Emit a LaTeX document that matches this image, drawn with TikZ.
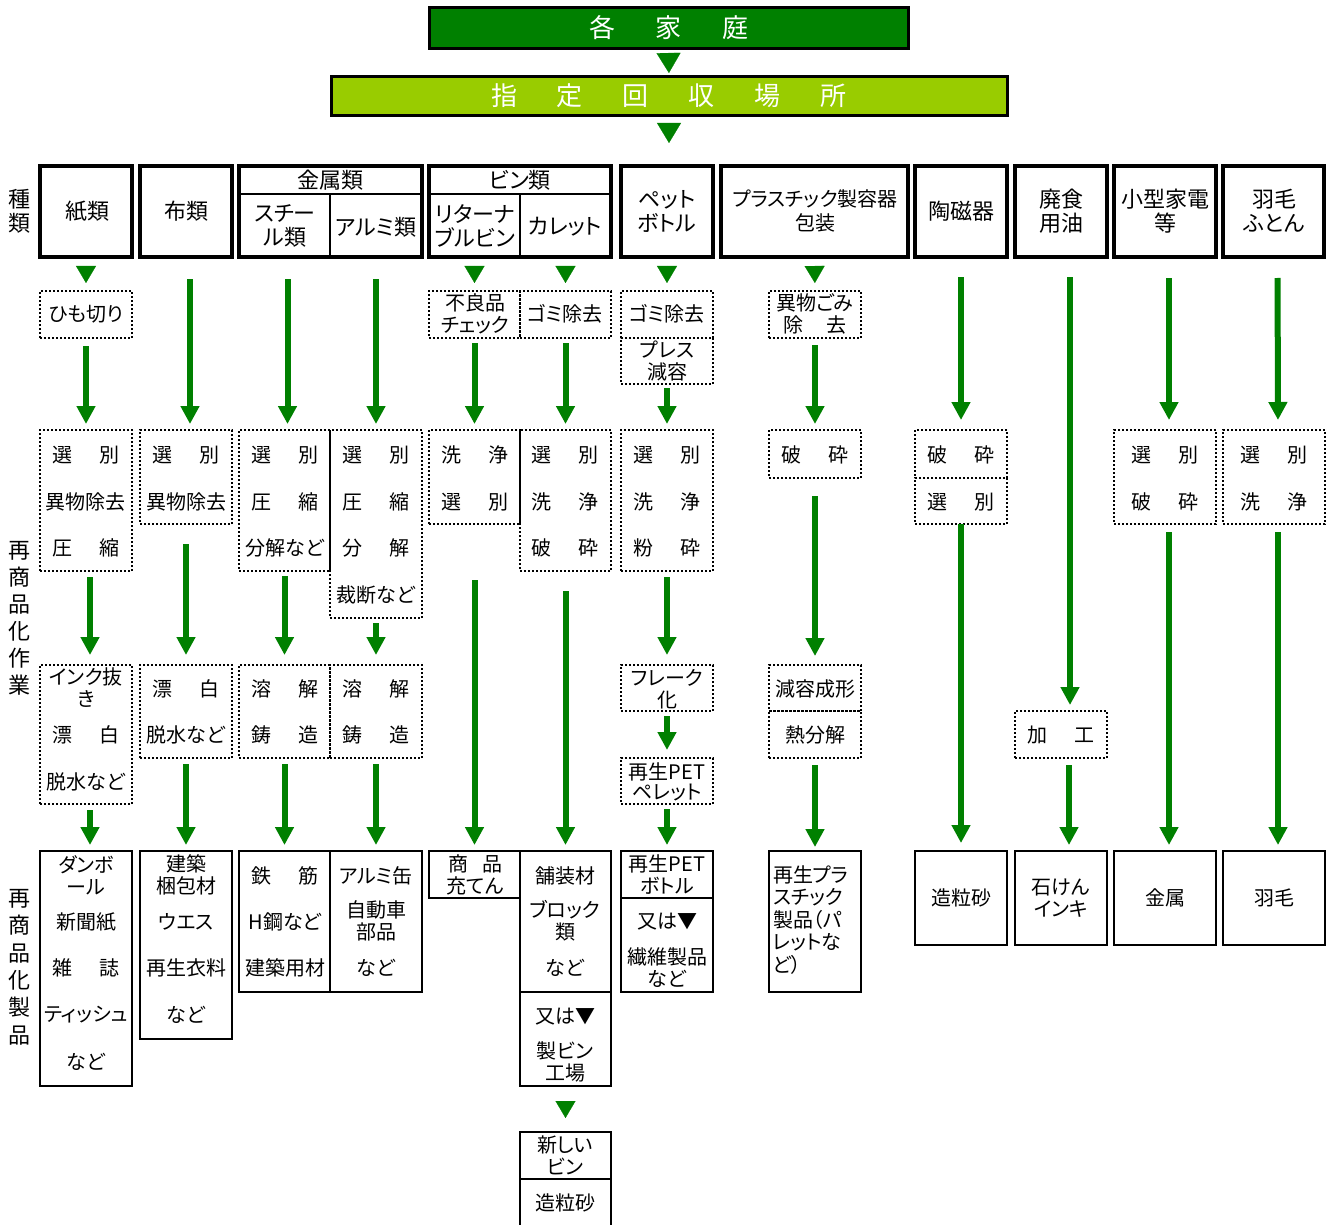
\documentclass[tikz,border=0pt]{standalone}
\usepackage{fontspec}
\setmainfont{Noto Sans CJK JP}[RawFeature=+palt]
\usetikzlibrary{fit,arrows.meta}
\definecolor{dkgreen}{HTML}{008000}
\definecolor{ltgreen}{HTML}{99CC00}
\newcounter{tn}
\newcommand\gap{\hspace{13.5pt}}
\newcommand\tx[4][]{\stepcounter{tn}\node[txt,#1] (t\arabic{tn}) at (#2,#3) {#4};}
\newcommand\bx[4]{\node[#1, fit={(#3) (#4)}] (#2) {};}
\newcommand\arr[5][0pt]{\draw[arr, shorten <=#4, shorten >=#5] ([xshift=#1]#2.south) -- ([xshift=#1]#3.north);}
\newcommand\tri[4]{\draw[tri, shorten <=#3, shorten >=#4] (#1.south) -- (#2.north);}
\begin{document}
\begin{tikzpicture}[x=0.5pt, y=-0.5pt,
  txt/.style={inner sep=0pt, outer sep=0pt, align=center, font=\fontsize{10pt}{11pt}\selectfont},
  cattxt/.style={font=\fontsize{11pt}{12pt}\selectfont},
  sidetxt/.style={font=\fontsize{11pt}{12pt}\selectfont},
  ttl/.style={inner sep=0pt, outer sep=0pt, text=white, font=\fontsize{13pt}{15pt}\selectfont},
  catbox/.style={draw, line width=2pt, inner sep=0pt, outer sep=0pt},
  cell/.style={draw, line width=1pt, inner sep=0pt, outer sep=0pt},
  dotbox/.style={draw, line width=1pt, dash pattern=on 1pt off 1pt, inner sep=0pt, outer sep=0pt},
  prodbox/.style={draw, line width=1pt, inner sep=0pt, outer sep=0pt},
  arr/.style={draw=dkgreen, line width=3pt, -{Triangle[width=9pt,length=9pt]}},
  tri/.style={draw=dkgreen, line width=0.1pt, -{Triangle[width=10pt,length=8.5pt]}},
  tribig/.style={draw=dkgreen, line width=0.1pt, -{Triangle[width=12pt,length=10pt]}}
]
\useasboundingbox (0,0) rectangle (1327,1225);

% ---- title boxes
\node[fit={(429,8) (908,49)}, fill=dkgreen, draw=black, line width=1.5pt, inner sep=0pt, outer sep=0pt] (hh) {};
\node[ttl] (hht) at (669,28) {各\hspace{20.5pt}家\hspace{20.5pt}庭};
\node[fit={(331,77) (1007,116)}, fill=ltgreen, draw=black, line width=1.5pt, inner sep=0pt, outer sep=0pt] (sk) {};
\node[ttl] (skt) at (669,96) {指\hspace{20pt}定\hspace{20pt}回\hspace{20pt}収\hspace{20pt}場\hspace{20pt}所};
\coordinate (catTop) at (669,143);
\draw[tribig, shorten <=2pt, shorten >=2pt] (hh.south) -- (sk.north);
\draw[tribig, shorten <=3.5pt] (sk.south) -- (catTop);

% ---- side labels
\tx[sidetxt]{20}{211}{種\\類}
\tx[sidetxt, font=\fontsize{11pt}{13.5pt}\selectfont]{20}{618}{再\\商\\品\\化\\作\\業}
\tx[sidetxt, font=\fontsize{11pt}{13.7pt}\selectfont]{20}{967}{再\\商\\品\\化\\製\\品}

% ---- category row
\bx{catbox}{c1}{40,166}{132,257}
\bx{catbox}{c2}{140,166}{232,257}
\bx{cell}{c3h}{239,166}{422,194}
\bx{cell}{c3a}{239,194}{330,257}
\bx{cell}{c3b}{330,194}{422,257}
\bx{catbox}{c3}{239,166}{422,257}
\bx{cell}{c4h}{429,166}{611,194}
\bx{cell}{c4a}{429,194}{520,257}
\bx{cell}{c4b}{520,194}{611,257}
\bx{catbox}{c4}{429,166}{611,257}
\bx{catbox}{c5}{621,166}{713,257}
\bx{catbox}{c6}{721,166}{908,257}
\bx{catbox}{c7}{915,166}{1007,257}
\bx{catbox}{c8}{1015,166}{1107,257}
\bx{catbox}{c9}{1114,166}{1216,257}
\bx{catbox}{c10}{1223,166}{1324,257}

\tx[cattxt]{87}{211}{紙類}
\tx[cattxt]{186}{211}{布類}
\tx[cattxt]{330}{180}{金属類}
\tx[cattxt]{285}{226}{スチー\\ル類}
\tx[cattxt]{376}{227}{アルミ類}
\tx[cattxt]{520}{180}{ビン類}
\tx[cattxt]{475}{226}{リターナ\\ブルビン}
\tx[cattxt]{565}{227}{カレット}
\tx[cattxt]{667}{211}{ペット\\ボトル}
\tx[font=\fontsize{10pt}{12pt}\selectfont]{815}{211}{プラスチック製容器\\包装}
\tx[cattxt]{961}{211}{陶磁器}
\tx[cattxt]{1061}{211}{廃食\\用油}
\tx[cattxt]{1165}{211}{小型家電\\等}
\tx[cattxt]{1274}{211}{羽毛\\ふとん}

% ---- process and product boxes
\bx{dotbox}{p1a}{40,291}{132,338}
\bx{dotbox}{p1b}{40,430}{132,571}
\bx{dotbox}{p1c}{40,665}{132,804}
\bx{prodbox}{r1}{40,851}{132,1086}
\bx{dotbox}{p2b}{140,430}{232,524}
\bx{dotbox}{p2c}{140,665}{232,758}
\bx{prodbox}{r2}{140,851}{232,1039}
\bx{dotbox}{p3b}{239,430}{330,571}
\bx{dotbox}{p3c}{239,665}{330,758}
\bx{prodbox}{r3a}{239,851}{330,992}
\bx{dotbox}{p4b}{330,430}{422,618}
\bx{dotbox}{p4c}{330,665}{422,758}
\bx{prodbox}{r4}{330,851}{422,992}
\bx{dotbox}{p5a}{429,291}{520,338}
\bx{dotbox}{p5b}{429,430}{520,524}
\bx{prodbox}{r5}{429,851}{520,898}
\bx{dotbox}{p6a}{520,291}{611,338}
\bx{dotbox}{p6b}{520,430}{611,571}
\bx{prodbox}{r6a}{520,851}{611,992}
\bx{prodbox}{r6b}{520,992}{611,1086}
\bx{prodbox}{r6c}{520,1132}{611,1179}
\node[fit={(520,1179) (611,1225)}, inner sep=0pt, outer sep=0pt] (r6d) {};
\draw[line width=1pt] (r6d.south west) -- (r6d.north west) -- (r6d.north east) -- (r6d.south east);
\bx{dotbox}{p7a}{621,291}{713,338}
\bx{dotbox}{p7a2}{621,338}{713,384}
\bx{dotbox}{p7b}{621,430}{713,571}
\bx{dotbox}{p7c}{621,665}{713,711}
\bx{dotbox}{p7d}{621,758}{713,804}
\bx{prodbox}{r7a}{621,851}{713,898}
\bx{prodbox}{r7b}{621,898}{713,992}
\bx{dotbox}{p8a}{769,291}{861,338}
\bx{dotbox}{p8b}{769,430}{861,478}
\bx{dotbox}{p8c}{769,665}{861,711}
\bx{dotbox}{p8d}{769,711}{861,758}
\bx{prodbox}{r8}{769,851}{861,992}
\bx{dotbox}{p9a}{915,430}{1007,478}
\bx{dotbox}{p9b}{915,478}{1007,524}
\bx{prodbox}{r9}{915,851}{1007,945}
\bx{dotbox}{p10}{1015,711}{1107,758}
\bx{prodbox}{r10}{1015,851}{1107,945}
\bx{dotbox}{p11}{1114,430}{1216,524}
\bx{prodbox}{r11}{1114,851}{1216,945}
\bx{dotbox}{p12}{1223,430}{1325,524}
\bx{prodbox}{r12}{1223,851}{1325,945}

% ---- texts column 1
\tx{86}{314}{ひも切り}
\tx{86}{455}{選\gap 別}
\tx{86}{502}{異物除去}
\tx{86}{548}{圧\gap 縮}
\tx{86}{688}{インク抜\\き}
\tx{86}{735}{漂\gap 白}
\tx{86}{782}{脱水など}
\tx{86}{875}{ダンボ\\ール}
\tx{86}{922}{新聞紙}
\tx{86}{968}{雑\gap 誌}
\tx{86}{1015}{ティッシュ}
\tx{86}{1062}{など}
% column 2
\tx{186}{455}{選\gap 別}
\tx{186}{502}{異物除去}
\tx{186}{689}{漂\gap 白}
\tx{186}{735}{脱水など}
\tx{186}{875}{建築\\梱包材}
\tx{186}{922}{ウエス}
\tx{186}{968}{再生衣料}
\tx{186}{1015}{など}
% column 3
\tx{285}{455}{選\gap 別}
\tx{285}{502}{圧\gap 縮}
\tx{285}{548}{分解など}
\tx{285}{689}{溶\gap 解}
\tx{285}{735}{鋳\gap 造}
\tx{285}{876}{鉄\gap 筋}
\tx{285}{922}{H鋼など}
\tx{285}{968}{建築用材}
% column 4
\tx{376}{455}{選\gap 別}
\tx{376}{502}{圧\gap 縮}
\tx{376}{548}{分\gap 解}
\tx{376}{595}{裁断など}
\tx{376}{689}{溶\gap 解}
\tx{376}{735}{鋳\gap 造}
\tx{376}{876}{アルミ缶}
\tx{376}{921}{自動車\\部品}
\tx{376}{968}{など}
% column 5
\tx{475}{314}{不良品\\チェック}
\tx{475}{455}{洗\gap 浄}
\tx{475}{502}{選\gap 別}
\tx{475}{875}{商\hspace{7pt}品\\充てん}
% column 6
\tx{565}{314}{ゴミ除去}
\tx{565}{455}{選\gap 別}
\tx{565}{502}{洗\gap 浄}
\tx{565}{548}{破\gap 砕}
\tx{565}{876}{舗装材}
\tx{565}{921}{ブロック\\類}
\tx{565}{968}{など}
\tx{565}{1017}{又は▼}
\tx{565}{1062}{製ビン\\工場}
\tx{565}{1155}{新しい\\ビン}
\tx{565}{1203}{造粒砂}
% column 7
\tx{667}{314}{ゴミ除去}
\tx{667}{361}{プレス\\減容}
\tx{667}{455}{選\gap 別}
\tx{667}{502}{洗\gap 浄}
\tx{667}{548}{粉\gap 砕}
\tx{667}{689}{フレーク\\化}
\tx[font=\fontsize{10pt}{10pt}\selectfont]{667}{782}{再生PET\\ペレット}
\tx{667}{875}{再生PET\\ボトル}
\tx{667}{922}{又は▼}
\tx{667}{968}{繊維製品\\など}
% column 8
\tx{815}{314}{異物ごみ\\除\hspace{12pt}去}
\tx{815}{455}{破\gap 砕}
\tx{815}{689}{減容成形}
\tx{815}{735}{熱分解}
\tx[align=left, anchor=west, font=\fontsize{10pt}{11.25pt}\selectfont]{773}{920}{再生プラ\\スチック\\製品（パ\\レットな\\ど）}
% column 9
\tx{961}{455}{破\gap 砕}
\tx{961}{502}{選\gap 別}
\tx{961}{898}{造粒砂}
% column 10
\tx{1061}{735}{加\gap 工}
\tx{1061}{898}{石けん\\インキ}
% column 11
\tx{1165}{455}{選\gap 別}
\tx{1165}{502}{破\gap 砕}
\tx{1165}{898}{金属}
% column 12
\tx{1274}{455}{選\gap 別}
\tx{1274}{502}{洗\gap 浄}
\tx{1274}{898}{羽毛}

% ---- connectors
\tri{c1}{p1a}{4.5pt}{4pt}
\arr{p1a}{p1b}{4pt}{3pt}
\arr[2pt]{p1b}{p1c}{3pt}{5pt}
\arr[2pt]{p1c}{r1}{3pt}{3pt}
\arr[2pt]{c2}{p2b}{11pt}{3pt}
\arr{p2b}{p2c}{10pt}{5pt}
\arr{p2c}{r2}{3pt}{3pt}
\arr[1.5pt]{c3a}{p3b}{11pt}{3pt}
\arr{p3b}{p3c}{2.5pt}{5pt}
\arr{p3c}{r3a}{3pt}{3pt}
\arr{c3b}{p4b}{11pt}{3pt}
\arr{p4b}{p4c}{2.5pt}{5pt}
\arr{p4c}{r4}{3pt}{3pt}
\tri{c4a}{p5a}{4.5pt}{4pt}
\arr{p5a}{p5b}{2.5pt}{3pt}
\arr{p5b}{r5}{28pt}{3pt}
\tri{c4b}{p6a}{4.5pt}{4pt}
\arr{p6a}{p6b}{2.5pt}{3pt}
\arr{p6b}{r6a}{10pt}{3pt}
\tri{r6b}{r6c}{7.5pt}{7pt}
\tri{c5}{p7a}{4.5pt}{4pt}
\arr{p7a2}{p7b}{2pt}{3pt}
\arr{p7b}{p7c}{3pt}{5pt}
\arr{p7c}{p7d}{2.5pt}{4pt}
\arr{p7d}{r7a}{2.5pt}{3pt}
\tri{c6}{p8a}{4.5pt}{4pt}
\arr{p8a}{p8b}{3.5pt}{3pt}
\arr{p8b}{p8c}{9pt}{4.5pt}
\arr{p8d}{r8}{3.5pt}{2pt}
\arr{c7}{p9a}{10pt}{5pt}
\arr{p9b}{r9}{0pt}{4pt}
\arr[4.5pt]{c8}{p10}{10pt}{3pt}
\arr[4pt]{p10}{r10}{3.5pt}{3pt}
\arr[2pt]{c9}{p11}{10.5pt}{5pt}
\arr[2pt]{p11}{r11}{4pt}{3pt}
\arr[2pt]{c10}{p12}{10.5pt}{5pt}
\arr[2pt]{p12}{r12}{4pt}{3pt}
\end{tikzpicture}
\end{document}
